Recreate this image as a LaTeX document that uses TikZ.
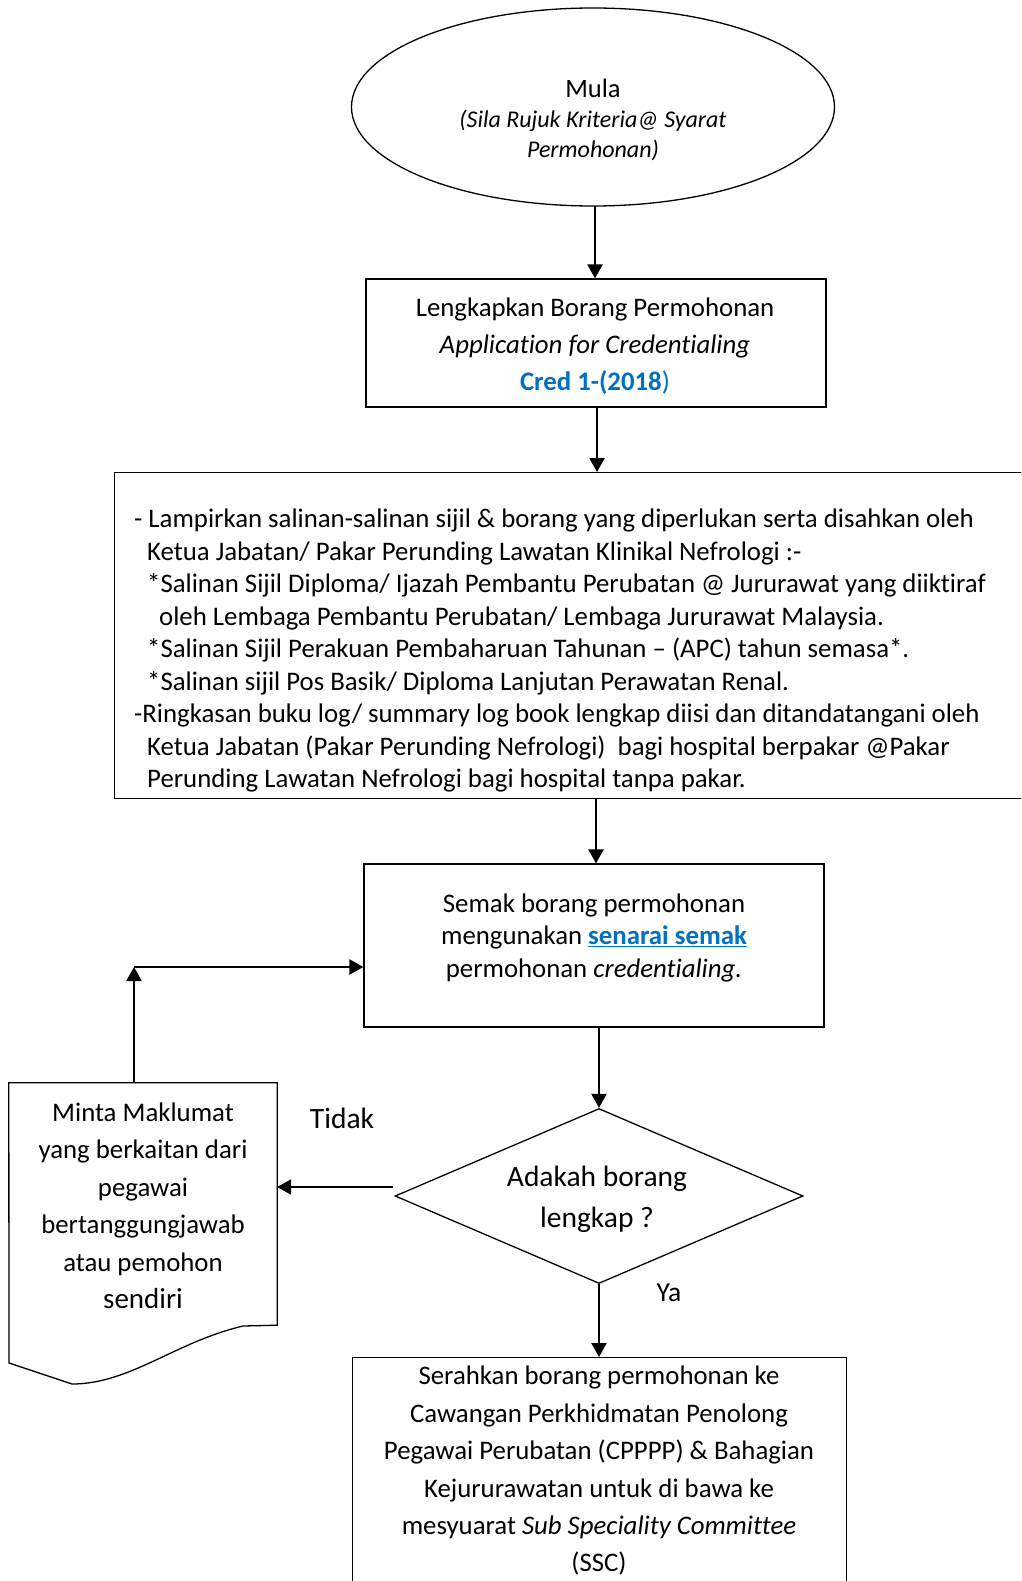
\documentclass[tikz,border=0pt]{standalone}
\usepackage{fontspec}
\setmainfont{Carlito}[Ligatures=NoCommon]
\usetikzlibrary{shapes.geometric,arrows.meta}
\definecolor{linkblue}{RGB}{0,112,192}
\begin{document}
\begin{tikzpicture}[x=1pt,y=-1pt,
  shapebox/.style={draw,line width=1.3pt,inner sep=0pt},
  txt/.style={inner sep=0pt,align=center},
  arr/.style={line width=2.4pt,-{Triangle[length=14pt,width=15pt]}}]
\useasboundingbox (0,0) rectangle (1021,1581);
\clip (0,0) rectangle (1021,1581);
% shapes
\node[shapebox,ellipse,minimum width=483pt,minimum height=198pt] (start) at (593,107) {};
\node[txt,font=\itshape\fontsize{24}{30}\selectfont] (starttxt) at (593,120) {{\upshape\fontsize{26.5}{30}\selectfont Mula}\\
  (Sila Rujuk Kriteria@ Syarat\\ Permohonan)};
\node[shapebox,rectangle,minimum width=460pt,minimum height=128pt] (b1) at (596,343) {};
\node[txt,font=\fontsize{26.8}{37}\selectfont] (b1txt) at (595,346) {Lengkapkan Borang Permohonan\\
  \itshape Application for Credentialing\\
  \textcolor{linkblue}{\textbf{Cred 1-(2018})}};
\node[shapebox,rectangle,minimum width=930pt,minimum height=326pt,anchor=north west] (b2) at (114,472) {};
\node[inner sep=0pt,align=left,anchor=north west,font=\fontsize{26.8}{32.5}\selectfont] (b2txt) at (134,509) {%
- Lampirkan salinan-salinan sijil \& borang yang diperlukan serta disahkan oleh\\
\hspace*{13pt}Ketua Jabatan/ Pakar Perunding Lawatan Klinikal Nefrologi :-\\
\hspace*{13pt}*Salinan Sijil Diploma/ Ijazah Pembantu Perubatan @ Jururawat yang diiktiraf\\
\hspace*{25pt}oleh Lembaga Pembantu Perubatan/ Lembaga Jururawat Malaysia.\\
\hspace*{13pt}*Salinan Sijil Perakuan Pembaharuan Tahunan -- (APC) tahun semasa*.\\
\hspace*{13pt}*Salinan sijil Pos Basik/ Diploma Lanjutan Perawatan Renal.\\
-Ringkasan buku log/ summary log book lengkap diisi dan ditandatangani oleh\\
\hspace*{13pt}Ketua Jabatan (Pakar Perunding Nefrologi)\ \ bagi hospital berpakar @Pakar\\
\hspace*{13pt}Perunding Lawatan Nefrologi bagi hospital tanpa pakar.};
\node[shapebox,rectangle,minimum width=460pt,minimum height=163pt] (b3) at (594,945.5) {};
\node[txt,font=\fontsize{26.8}{32.5}\selectfont] (b3txt) at (594,937.5) {Semak borang permohonan\\
  mengunakan \textcolor{linkblue}{\textbf{\underline{senarai semak}}}\\
  permohonan \textit{credentialing.}};
\node[shapebox,diamond,minimum width=408pt,minimum height=175pt] (d) at (599,1196) {};
\node[txt,font=\fontsize{29.5}{41}\selectfont] (dtxt) at (597,1199) {Adakah borang\\ lengkap ?};
\node[inner sep=0pt,minimum width=268pt,minimum height=242pt] (doc) at (143,1204) {};
\draw[line width=1.3pt] (doc.north west) -- (doc.north east) -- (doc.south east)
  -- (243,1326) .. controls (175,1342) and (130,1384) .. (72,1384) -- (9,1363) -- cycle;
\node[txt,font=\fontsize{26.8}{37.5}\selectfont] (doctxt) at (143,1206) {Minta Maklumat\\ yang berkaitan dari\\ pegawai\\ bertanggungjawab\\ atau pemohon\\ {\fontsize{29}{37.5}\selectfont sendiri}};
\node[shapebox,rectangle,minimum width=494pt,minimum height=300pt,anchor=north west] (b4) at (352,1357) {};
\node[txt,font=\fontsize{26.8}{37.4}\selectfont] (b4txt) at (599,1471) {Serahkan borang permohonan ke\\
  Cawangan Perkhidmatan Penolong\\
  Pegawai Perubatan (CPPPP) \& Bahagian\\
  Kejururawatan untuk di bawa ke\\
  mesyuarat \textit{Sub Speciality Committee}\\
  (SSC)};
\node[inner sep=0pt,font=\fontsize{29.5}{30}\selectfont] (tidak) at (342,1118) {Tidak};
\node[inner sep=0pt,font=\fontsize{27.5}{30}\selectfont] (ya) at (669,1293) {Ya};
% connectors
\coordinate (c0) at (595,206);
\draw[arr] (c0) -- (c0 |- b1.north);
\draw[arr] (597,407) -- (597,472);
\coordinate (c2) at (596,798);
\draw[arr] (c2) -- (c2 |- b3.north);
\coordinate (c3) at (599,1027);
\draw[arr] (c3) -- (d.north);
\draw[arr] (d.south) -- (d.south |- b4.north);
\coordinate (tid) at (393,1187);
\draw[arr] (tid) -- (tid -| doc.east);
\coordinate (loop) at (134,967);
\draw[arr] (loop |- doc.north) -- (loop);
\draw[arr] (loop) -- (loop -| b3.west);
\end{tikzpicture}
\end{document}
